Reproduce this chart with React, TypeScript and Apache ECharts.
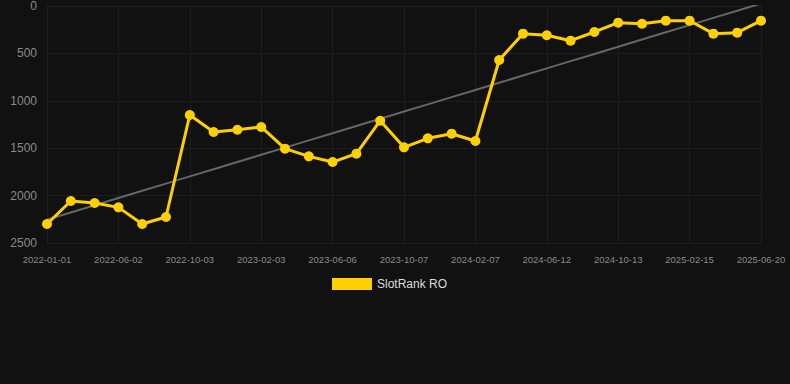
import React, { useEffect, useRef } from "react";
import * as echarts from "echarts";

const categories: string[] = [
  "2022-01-01", "2022-02-20", "2022-04-12", "2022-06-02", "2022-07-13", "2022-08-23",
  "2022-10-03", "2022-11-12", "2022-12-24", "2023-02-03", "2023-03-15", "2023-04-26",
  "2023-06-06", "2023-07-18", "2023-08-27", "2023-10-07", "2023-11-17", "2023-12-28",
  "2024-02-07", "2024-03-20", "2024-05-01", "2024-06-12", "2024-07-23", "2024-09-02",
  "2024-10-13", "2024-11-24", "2025-01-04", "2025-02-15", "2025-03-29", "2025-05-09",
  "2025-06-20",
];

const rankValues: number[] = [
  2300, 2057, 2078, 2124, 2300, 2226, 1150, 1329, 1305, 1276, 1505, 1586, 1646, 1558,
  1210, 1491, 1396, 1347, 1424, 570, 292, 309, 366, 274, 176, 187, 155, 155, 292, 281,
  155,
];

const seriesName = "SlotRank RO";
const yTicks = { min: 0, max: 2500, interval: 500 };

function trendLine(values: number[]): number[] {
  const n = values.length;
  const mx = (n - 1) / 2;
  const my = values.reduce((a, b) => a + b, 0) / n;
  let sxy = 0;
  let sxx = 0;
  values.forEach((v, i) => {
    sxy += (i - mx) * (v - my);
    sxx += (i - mx) * (i - mx);
  });
  const slope = sxy / sxx;
  return values.map((_, i) => my + slope * (i - mx));
}

export default function App() {
  const ref = useRef<HTMLDivElement>(null);
  useEffect(() => {
    if (!ref.current) return;
    const chart = echarts.init(ref.current, undefined, { renderer: "svg" });
    const trend = trendLine(rankValues);
    chart.setOption({
      animation: false,
      backgroundColor: "#111111",
      grid: { left: 47, right: 29, top: 6, bottom: 141 },
      legend: {
        data: [seriesName],
        top: 273,
        left: 327,
        itemWidth: 40,
        itemHeight: 12,
        itemGap: 10,
        icon: "rect",
        textStyle: { color: "#dddddd", fontSize: 12, fontFamily: "Arial, Liberation Sans, sans-serif" },
      },
      xAxis: {
        type: "category",
        data: categories,
        boundaryGap: false,
        axisLine: { show: true, lineStyle: { color: "#222222" } },
        axisTick: { show: false },
        axisLabel: {
          interval: 2,
          color: "#8a8a8a",
          fontSize: 9.5,
          margin: 11,
          fontFamily: "Arial, Liberation Sans, sans-serif",
        },
        splitLine: { show: true, interval: 2, lineStyle: { color: "#1e1e1e", width: 1 } },
      },
      yAxis: {
        type: "value",
        inverse: true,
        min: yTicks.min,
        max: yTicks.max,
        interval: yTicks.interval,
        axisLine: { show: false },
        axisTick: { show: false },
        axisLabel: {
          color: "#8a8a8a",
          fontSize: 12,
          margin: 10,
          formatter: (v: number) => String(v),
          fontFamily: "Arial, Liberation Sans, sans-serif",
        },
        splitLine: { show: true, lineStyle: { color: "#1e1e1e", width: 1 } },
      },
      series: [
        {
          name: "trend",
          type: "line",
          data: trend,
          showSymbol: false,
          symbol: "none",
          lineStyle: { color: "#666666", width: 2 },
          silent: true,
          z: 1,
        },
        {
          name: seriesName,
          type: "line",
          data: rankValues,
          symbol: "circle",
          symbolSize: 10,
          itemStyle: { color: "#ffd000" },
          lineStyle: { color: "#ffd000", width: 3 },
          z: 2,
        },
      ],
    });
    return () => chart.dispose();
  }, []);
  return (
    <div
      ref={ref}
      style={{ position: "fixed", left: 0, top: 0, width: 790, height: 384 }}
    />
  );
}
